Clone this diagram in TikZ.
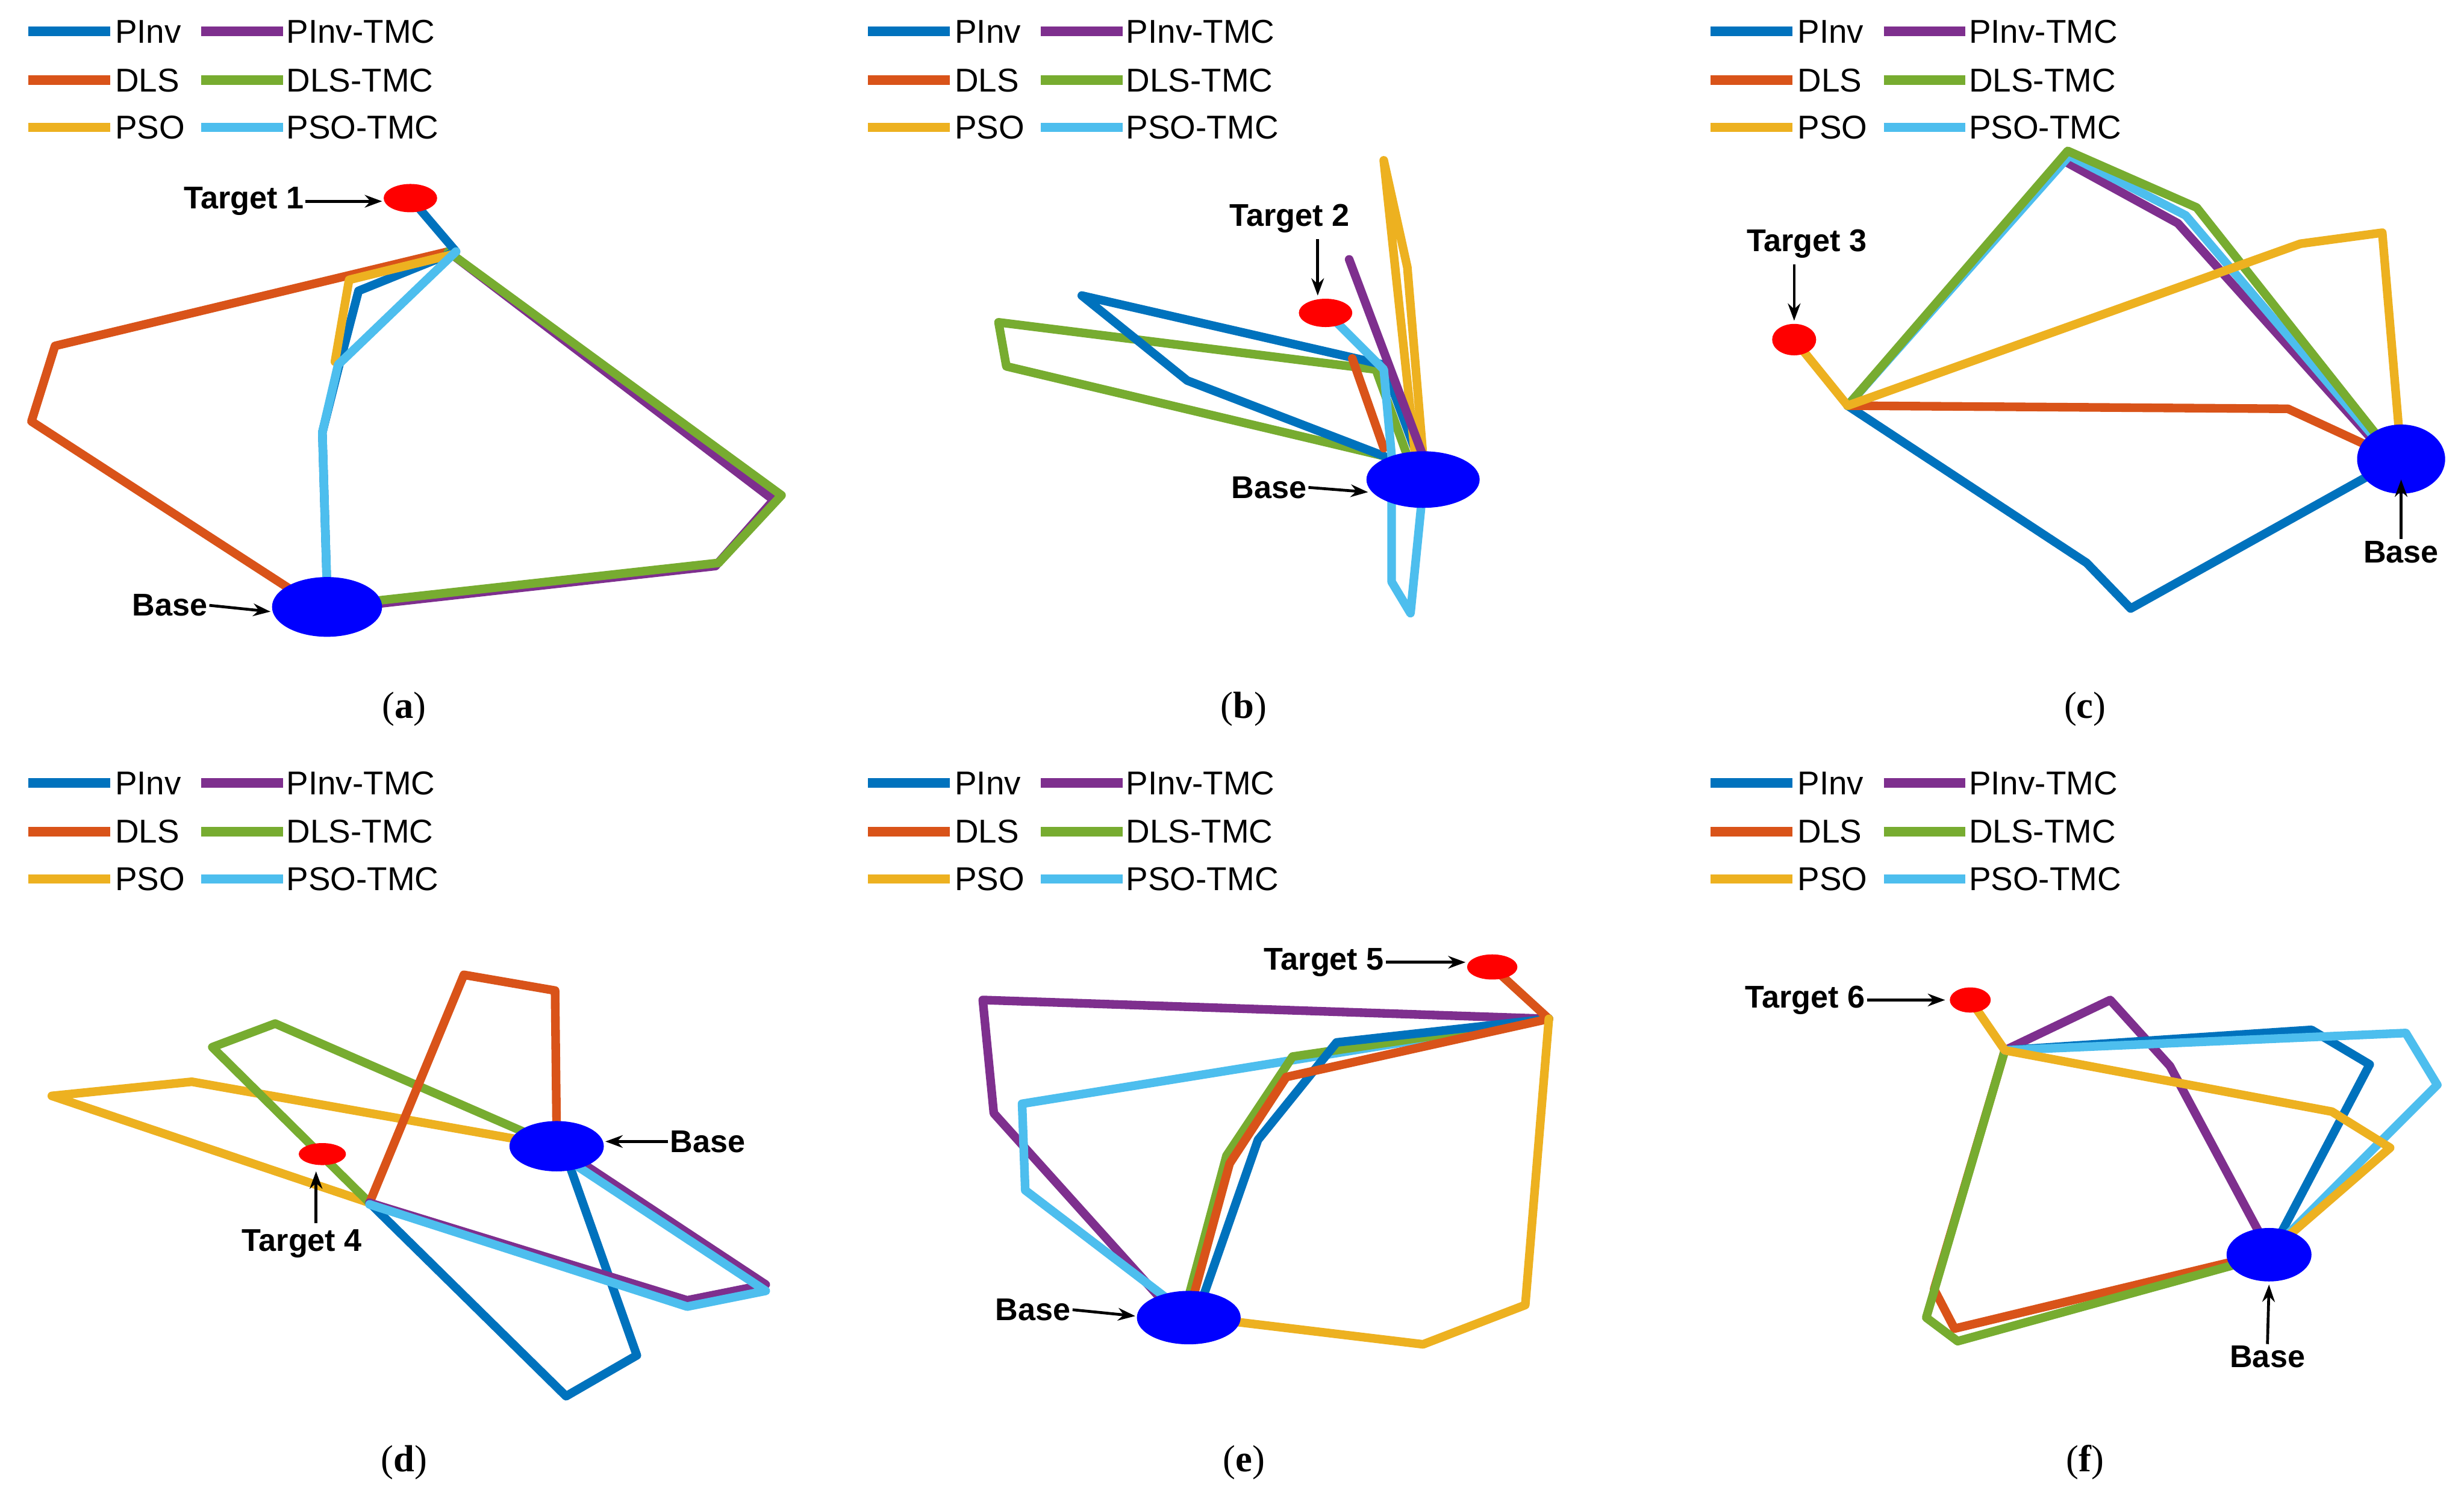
\documentclass[tikz,border=0pt]{standalone}
\usepackage{fontspec}
\setmainfont{Liberation Sans}
\newfontfamily\capfont{Liberation Serif}
\usetikzlibrary{arrows.meta}
\definecolor{cPI}{RGB}{0,114,189}
\definecolor{cDL}{RGB}{217,83,25}
\definecolor{cPS}{RGB}{237,177,32}
\definecolor{cPIT}{RGB}{126,47,142}
\definecolor{cDLT}{RGB}{119,172,48}
\definecolor{cPST}{RGB}{77,190,238}
\tikzset{
 path/.style={line width=5.5pt,line join=round,line cap=round},
 legline/.style={line width=6pt},
 legtxt/.style={anchor=west,inner sep=0pt,font=\fontsize{21}{25}\selectfont},
 lbl/.style={inner sep=1pt,font=\bfseries\fontsize{20}{24}\selectfont},
 arr/.style={-{Stealth[length=11pt,width=8pt]},line width=1.8pt},
 basee/.style={fill=blue,draw=none},
 targ/.style={fill=red,draw=none},
 captxt/.style={font=\capfont\fontsize{24}{28}\selectfont}
}
\newcommand\mylegend[3]{%
 \begin{scope}[shift={(#1,#2)}]
 \draw[legline,cPI] (0,20)--(52,20); \node[legtxt] (#3a) at (55,20) {PInv};
 \draw[legline,cPIT] (110,20)--(162,20); \node[legtxt] (#3b) at (164,20) {PInv-TMC};
 \draw[legline,cDL] (0,51)--(52,51); \node[legtxt] (#3c) at (55,51) {DLS};
 \draw[legline,cDLT] (110,51)--(162,51); \node[legtxt] (#3d) at (164,51) {DLS-TMC};
 \draw[legline,cPS] (0,81)--(52,81); \node[legtxt] (#3e) at (55,81) {PSO};
 \draw[legline,cPST] (110,81)--(162,81); \node[legtxt] (#3f) at (164,81) {PSO-TMC};
 \end{scope}}
\begin{document}
\begin{tikzpicture}[x=1pt,y=-1pt]
\useasboundingbox[fill=white] (0,0) rectangle (1567,953);
\mylegend{18}{0}{la}\mylegend{552}{0}{lb}\mylegend{1088}{0}{lc}
\mylegend{18}{478}{ld}\mylegend{552}{478}{le}\mylegend{1088}{478}{lf}
% (a)
\draw[path,cDL] (285,160)--(35,220)--(20,268)--(185,375);
\draw[path,cPIT] (285,160)--(492,318)--(455,360)--(240,384);
\draw[path,cDLT] (285,160)--(497,315)--(457,358)--(240,382);
\draw[path,cPI] (261,126)--(290,160)--(228,185)--(215,235)--(205,275)--(208,375);
\draw[path,cPS] (287,162)--(222,178)--(213,230);
\draw[path,cPST] (290,160)--(215,232)--(205,275)--(208,375);
\fill[targ] (261,126) ellipse (17 and 9);
\fill[basee] (208,386) ellipse (35 and 19);
\node[lbl] (ta) at (155,128) {Target 1};
\coordinate (tae) at (243,128);
\draw[arr] (ta.east)--(tae);
\node[lbl] (ba) at (108,385) {Base};
\coordinate (bae) at (172,389);
\draw[arr] (ba.east)--(bae);
\node[captxt] (ca) at (257,451) {(\textbf{a})};
% (b)
\draw[path,cDLT] (880,290)--(640,233)--(635,205)--(875,235)--(895,290);
\draw[path,cPI] (880,290)--(755,242)--(688,188)--(880,232)--(905,300);
\draw[path,cDL] (860,228)--(880,285);
\draw[path,cPS] (900,290)--(880,102)--(895,170)--(905,290);
\draw[path,cPIT] (858,165)--(905,290);
\draw[path,cPST] (850,205)--(880,235)--(885,290)--(885,370)--(897,390)--(905,310);
\fill[basee] (905,305) ellipse (36 and 18);
\fill[targ] (843,199) ellipse (17 and 9);
\node[lbl] (tb) at (820,139) {Target 2};
\coordinate (tbe) at (838,188);
\draw[arr] (838,152)--(tbe);
\node[lbl] (bb) at (807,310) {Base};
\coordinate (bbe) at (870,313);
\draw[arr] (bb.east)--(bbe);
\node[captxt] (cb) at (791,451) {(\textbf{b})};
% (c)
\draw[path,cPI] (1175,258)--(1327,358)--(1355,387)--(1520,295);
\draw[path,cDL] (1175,258)--(1455,260)--(1520,290);
\draw[path,cPIT] (1175,258)--(1312,102)--(1385,142)--(1518,290);
\draw[path,cPST] (1175,258)--(1316,99)--(1390,137)--(1520,290);
\draw[path,cDLT] (1175,258)--(1315,96)--(1397,132)--(1522,290);
\draw[path,cPS] (1141,216)--(1175,258)--(1463,155)--(1515,148)--(1527,290);
\fill[basee] (1527,292) ellipse (28 and 22);
\fill[targ] (1141,216) ellipse (14 and 10);
\node[lbl] (tc) at (1149,155) {Target 3};
\coordinate (tce) at (1141,204);
\draw[arr] (1141,168)--(tce);
\node[lbl] (bc) at (1527,351) {Base};
\coordinate (bce) at (1527,305);
\draw[arr] (bc.north)--(bce);
\node[captxt] (cc) at (1326,451) {(\textbf{c})};
% (d)
\draw[path,cPS] (354,729)--(122,688)--(33,697)--(235,765);
\draw[path,cDLT] (354,729)--(175,651)--(135,666)--(235,765);
\draw[path,cDL] (235,765)--(295,620)--(353,630)--(354,720);
\draw[path,cPI] (235,765)--(360,888)--(405,862)--(360,735);
\draw[path,cPIT] (235,765)--(437,827)--(487,817)--(360,733);
\draw[path,cPST] (235,766)--(437,831)--(487,821)--(360,737);
\fill[basee] (354,729) ellipse (30 and 16);
\fill[targ] (205,734) ellipse (15 and 7);
\node[lbl] (bd) at (450,726) {Base};
\coordinate (bde) at (385,726);
\draw[arr] (bd.west)--(bde);
\node[lbl] (td) at (192,791) {Target 4};
\coordinate (tde) at (201,745);
\draw[arr] (201,778)--(tde);
\node[captxt] (cd) at (257,930) {(\textbf{d})};
% (e)
\draw[path,cPIT] (985,648)--(625,636)--(632,708)--(740,828);
\draw[path,cPST] (985,648)--(650,702)--(652,757)--(745,828);
\draw[path,cDLT] (985,648)--(822,672)--(780,735)--(755,828);
\draw[path,cPI] (985,648)--(850,663)--(800,725)--(764,828);
\draw[path,cDL] (949,615)--(985,648)--(818,685)--(782,740)--(758,828);
\draw[path,cPS] (985,648)--(970,830)--(905,855)--(780,840);
\fill[basee] (756,838) ellipse (33 and 17);
\fill[targ] (949,615) ellipse (16 and 8);
\node[lbl] (te) at (842,612) {Target 5};
\coordinate (tee) at (932,612);
\draw[arr] (te.east)--(tee);
\node[lbl] (be) at (657,833) {Base};
\coordinate (bee) at (722,837);
\draw[arr] (be.east)--(bee);
\node[captxt] (ce) at (791,930) {(\textbf{e})};
% (f)
\draw[path,cDL] (1275,668)--(1230,820)--(1243,845)--(1430,800);
\draw[path,cDLT] (1275,668)--(1225,838)--(1245,853)--(1430,802);
\draw[path,cPIT] (1275,668)--(1342,636)--(1380,678)--(1440,790);
\draw[path,cPI] (1275,668)--(1470,655)--(1507,677)--(1445,795);
\draw[path,cPST] (1275,668)--(1530,657)--(1550,690)--(1450,790);
\draw[path,cPS] (1253,636)--(1275,668)--(1483,707)--(1520,730)--(1445,795);
\fill[basee] (1443,798) ellipse (27 and 17);
\fill[targ] (1253,636) ellipse (13 and 8);
\node[lbl] (tf) at (1148,636) {Target 6};
\coordinate (tfe) at (1237,636);
\draw[arr] (tf.east)--(tfe);
\node[lbl] (bf) at (1442,863) {Base};
\coordinate (bfe) at (1443,817);
\draw[arr] (bf.north)--(bfe);
\node[captxt] (cf) at (1326,930) {(\textbf{f})};
\end{tikzpicture}
\end{document}
